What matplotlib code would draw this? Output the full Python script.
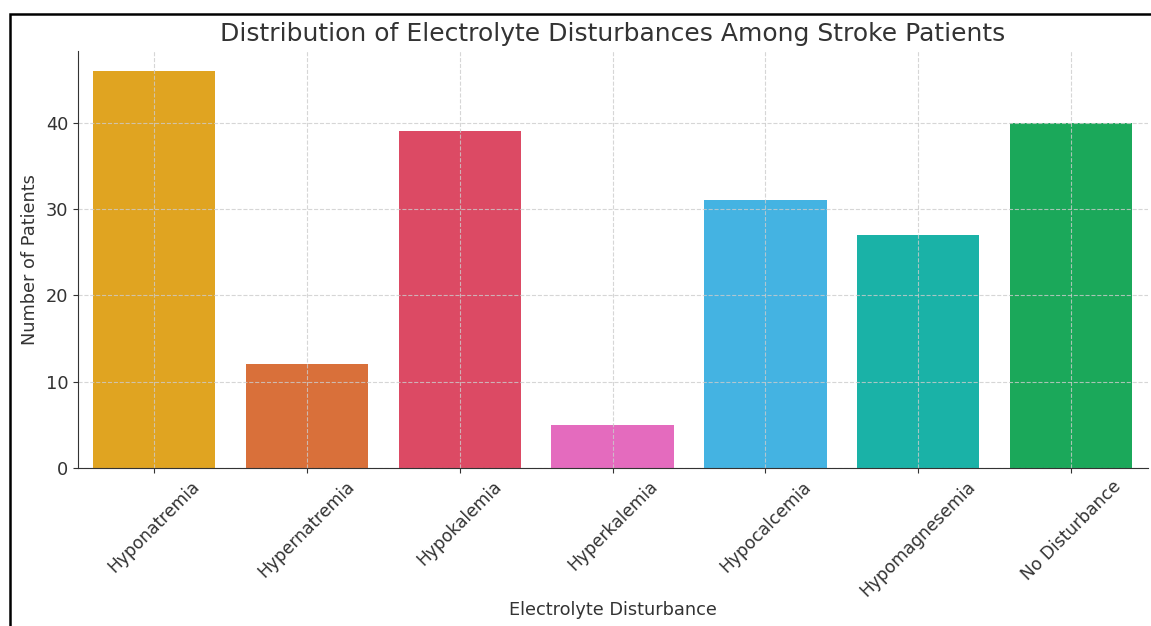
import matplotlib
matplotlib.use("Agg")
import matplotlib.pyplot as plt
from matplotlib.patches import Rectangle

# Patient counts per electrolyte disturbance
categories = ["Hyponatremia", "Hypernatremia", "Hypokalemia", "Hyperkalemia",
              "Hypocalcemia", "Hypomagnesemia", "No Disturbance"]
patients = [46, 12, 39, 5, 31, 27, 40]
bar_colors = ["#E0A421", "#D9703A", "#DC4A64", "#E46BBE",
              "#44B3E2", "#1AB2A7", "#1BA85A"]
y_ticks = [0, 10, 20, 30, 40]

W, H = 1151, 626
fig = plt.figure(figsize=(W / 100, H / 100), dpi=100)
ax = fig.add_axes([77.6 / W, 1 - 468 / H, (1147.5 - 77.6) / W, (468 - 51) / H])

text_color = "#333333"
x = range(len(categories))
ax.bar(x, patients, width=0.8, color=bar_colors, edgecolor="none")
ax.set_xlim(-0.5, len(categories) - 0.5)
ax.set_ylim(0, max(patients) * 1.05)

ax.set_xticks(list(x))
ax.set_xticklabels(categories, rotation=45, ha="center", fontsize=12.3, color=text_color)
ax.set_yticks(y_ticks)
ax.tick_params(axis="y", labelsize=12.8, labelcolor=text_color, color=text_color, pad=3)
ax.tick_params(axis="x", color=text_color)

ax.grid(True, linestyle="--", color="#cccccc", linewidth=0.8, alpha=0.8)
ax.spines["top"].set_visible(False)
ax.spines["right"].set_visible(False)
for s in ("left", "bottom"):
    ax.spines[s].set_color(text_color)

ax.set_title("Distribution of Electrolyte Disturbances Among Stroke Patients",
             fontsize=18, color=text_color, pad=7)
ax.set_xlabel("Electrolyte Disturbance", fontsize=12.8, color=text_color, labelpad=1)
ax.set_ylabel("Number of Patients", fontsize=12.8, color=text_color, labelpad=5)

# Frame around the figure
fig.patches.append(Rectangle((10 / W, -0.2), 1.2, 1 - 14 / H + 0.2,
                             transform=fig.transFigure, fill=False,
                             edgecolor="black", linewidth=1.8, clip_on=False))

fig.savefig("out.png", dpi=100)
